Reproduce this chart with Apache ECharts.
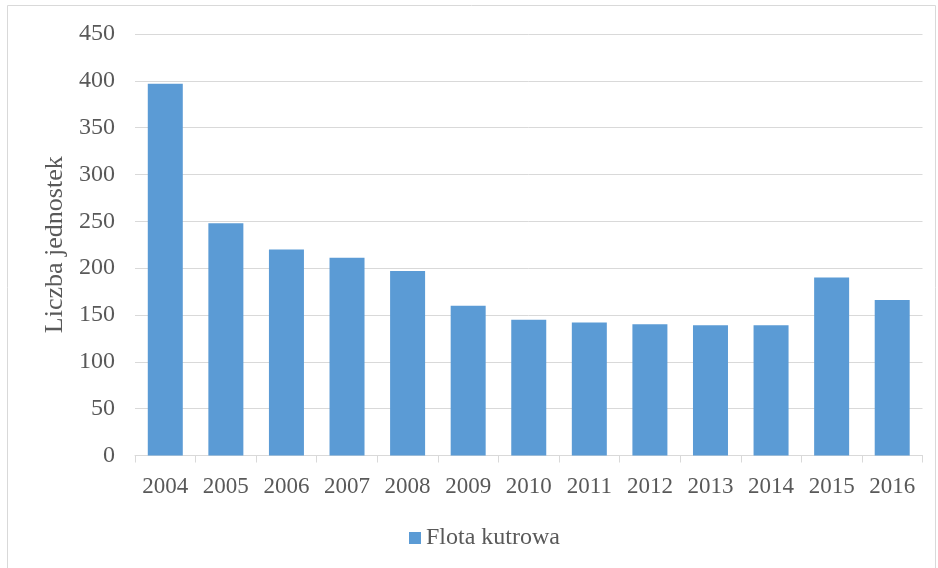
<!DOCTYPE html>
<html>
<head>
<meta charset="utf-8">
<script src="https://cdn.jsdelivr.net/npm/echarts@6/dist/echarts.min.js"></script>
<style>
  html, body { margin: 0; padding: 0; background: #fff; }
  #chart { width: 938px; height: 568px; }
</style>
</head>
<body>
<div id="chart"></div>
<script>
const years = ['2004', '2005', '2006', '2007', '2008', '2009', '2010', '2011', '2012', '2013', '2014', '2015', '2016']
const flotaKutrowa = [397, 248, 220, 211, 197, 160, 145, 142, 140, 139, 139, 190, 166]
const seriesName = 'Flota kutrowa'
const yAxisName = 'Liczba jednostek'

const textColor = '#595959'
const fontFamily = '"Liberation Serif", "Times New Roman", serif'

const chart = echarts.init(document.getElementById('chart'))
chart.setOption({
  animation: false,
  textStyle: { fontFamily: fontFamily },
  graphic: [{
    type: 'rect',
    shape: { x: 7.5, y: 5.5, width: 928, height: 580 },
    style: { fill: 'none', stroke: '#d9d9d9', lineWidth: 1 },
    silent: true
  }],
  grid: {
    left: 135,
    right: 15.5,
    top: 34,
    bottom: 112.5
  },
  legend: {
    data: [seriesName],
    bottom: 13,
    left: 404,
    itemWidth: 12,
    itemHeight: 12,
    itemGap: 5,
    icon: 'rect',
    textStyle: { color: textColor, fontSize: 24, fontFamily: fontFamily }
  },
  xAxis: {
    type: 'category',
    data: years,
    axisLine: { show: true, lineStyle: { color: '#d9d9d9', width: 1 } },
    axisTick: { show: true, length: 7, interval: 0, lineStyle: { color: '#d9d9d9' } },
    axisLabel: {
      color: textColor,
      fontSize: 23,
      margin: 20,
      interval: 0,
      hideOverlap: false,
      fontFamily: fontFamily
    }
  },
  yAxis: {
    type: 'value',
    min: 0,
    max: 450,
    interval: 50,
    name: yAxisName,
    nameLocation: 'middle',
    nameGap: 67,
    nameTextStyle: { color: textColor, fontSize: 26, fontFamily: fontFamily },
    axisLine: { show: false },
    axisTick: { show: false },
    axisLabel: { color: textColor, fontSize: 24, margin: 20, fontFamily: fontFamily },
    splitLine: { lineStyle: { color: '#d9d9d9', width: 1 } }
  },
  series: [{
    name: seriesName,
    type: 'bar',
    data: flotaKutrowa,
    barWidth: 35,
    itemStyle: { color: '#5B9BD5' }
  }]
})
</script>
</body>
</html>
